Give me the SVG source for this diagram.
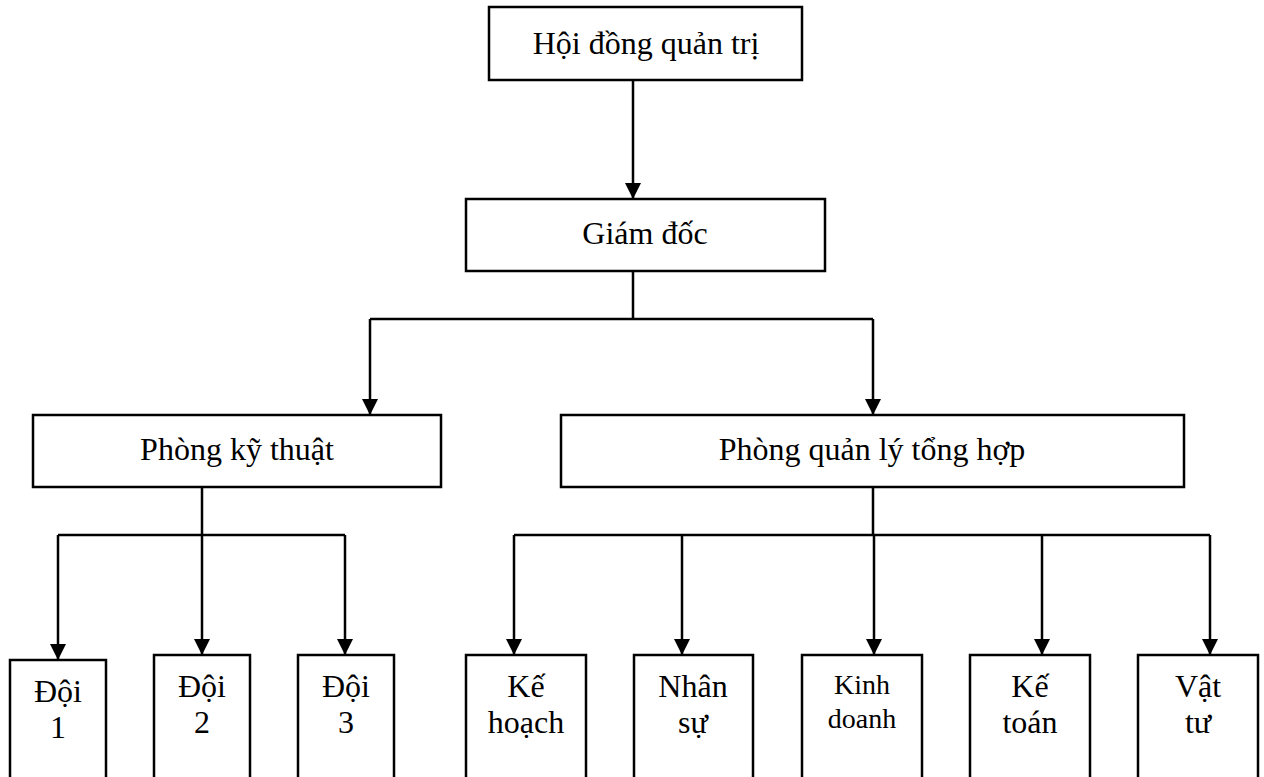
<svg xmlns="http://www.w3.org/2000/svg" width="1264" height="777" viewBox="0 0 1264 777">
<defs>
<marker id="arr" viewBox="0 0 16 16" refX="16" refY="8" markerWidth="16" markerHeight="16" markerUnits="userSpaceOnUse" orient="auto">
<path d="M0,0 L16,8 L0,16 Z" fill="#000"/>
</marker>
<style>
.box{fill:#fff;stroke:#000;stroke-width:2.5}
.t{font-family:"Liberation Serif","Times New Roman",serif;font-size:32px;fill:#000;text-anchor:middle}
.ts{font-family:"Liberation Serif","Times New Roman",serif;font-size:28px;fill:#000;text-anchor:middle}
.c{fill:none;stroke:#000;stroke-width:2.5}
.a{fill:none;stroke:#000;stroke-width:2.5;marker-end:url(#arr)}
</style>
</defs>
<rect width="1264" height="777" fill="#fff"/>
<g id="connectors">
<path class="a" d="M633,80 V199"/>
<path class="c" d="M633,271 V319 M370,319 H873"/>
<path class="a" d="M370,319 V415"/>
<path class="a" d="M873,319 V415"/>
<path class="c" d="M202,487 V535 M58,535 H345"/>
<path class="a" d="M58,535 V660"/>
<path class="a" d="M202,535 V655"/>
<path class="a" d="M345,535 V655"/>
<path class="c" d="M873,487 V535 M514,535 H1210"/>
<path class="a" d="M514,535 V655"/>
<path class="a" d="M682,535 V655"/>
<path class="a" d="M874,535 V655"/>
<path class="a" d="M1042,535 V655"/>
<path class="a" d="M1210,535 V655"/>
</g>
<g id="hdqt"><rect class="box" x="489" y="7" width="313" height="73"/><text class="t" x="646" y="54">Hội đồng quản trị</text></g>
<g id="giamdoc"><rect class="box" x="466" y="199" width="359" height="72"/><text class="t" x="645" y="244">Giám đốc</text></g>
<g id="pkt"><rect class="box" x="33" y="415" width="408" height="72"/><text class="t" x="237" y="460">Phòng kỹ thuật</text></g>
<g id="pqlth"><rect class="box" x="561" y="415" width="623" height="72"/><text class="t" x="872" y="460">Phòng quản lý tổng hợp</text></g>
<g id="doi1"><rect class="box" x="10" y="660" width="96" height="130"/><text class="t" x="58" y="702">Đội</text><text class="t" x="58" y="738">1</text></g>
<g id="doi2"><rect class="box" x="154" y="655" width="96" height="135"/><text class="t" x="202" y="697">Đội</text><text class="t" x="202" y="733">2</text></g>
<g id="doi3"><rect class="box" x="298" y="655" width="96" height="135"/><text class="t" x="346" y="697">Đội</text><text class="t" x="346" y="733">3</text></g>
<g id="kehoach"><rect class="box" x="466" y="655" width="120" height="135"/><text class="t" x="526" y="697">Kế</text><text class="t" x="526" y="733">hoạch</text></g>
<g id="nhansu"><rect class="box" x="634" y="655" width="119" height="135"/><text class="t" x="693" y="697">Nhân</text><text class="t" x="693" y="733">sự</text></g>
<g id="kinhdoanh"><rect class="box" x="802" y="655" width="120" height="135"/><text class="ts" x="862" y="694">Kinh</text><text class="ts" x="862" y="728">doanh</text></g>
<g id="ketoan"><rect class="box" x="970" y="655" width="120" height="135"/><text class="t" x="1030" y="697">Kế</text><text class="t" x="1030" y="733">toán</text></g>
<g id="vattu"><rect class="box" x="1138" y="655" width="120" height="135"/><text class="t" x="1198" y="697">Vật</text><text class="t" x="1198" y="733">tư</text></g>
</svg>
